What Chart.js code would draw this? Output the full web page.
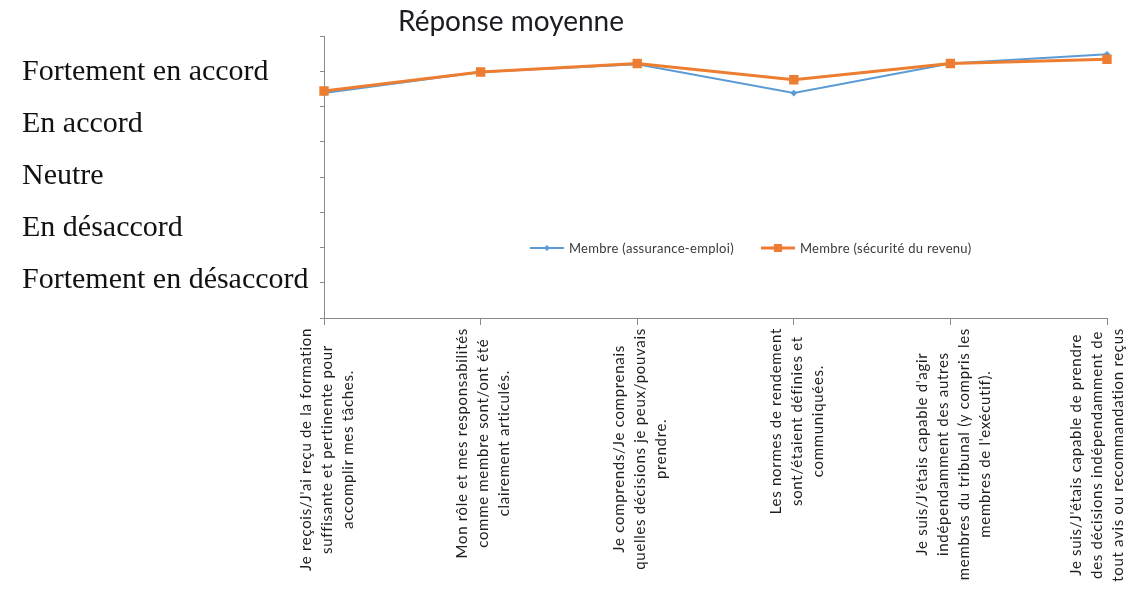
<!DOCTYPE html>
<html lang="fr">
<head>
<meta charset="utf-8">
<title>Réponse moyenne</title>
<script src="https://cdn.jsdelivr.net/npm/chart.js@4.4.1/dist/chart.umd.min.js"></script>
<style>
  html, body { margin: 0; padding: 0; background: #ffffff; }
  #wrap { width: 1133px; height: 593px; position: relative; }
</style>
</head>
<body>
<div id="wrap"><canvas id="chart" width="1133" height="593"></canvas></div>
<script>
// Survey statements (each entry = the lines of one axis label)
const categories = [
  ["Je reçois/J'ai reçu de la formation", "suffisante et pertinente pour", "accomplir mes tâches."],
  ["Mon rôle et mes responsabilités", "comme membre sont/ont été", "clairement articulés."],
  ["Je comprends/Je comprenais", "quelles décisions je peux/pouvais", "prendre."],
  ["Les normes de rendement", "sont/étaient définies et", "communiquées."],
  ["Je suis/J'étais capable d'agir", "indépendamment des autres", "membres du tribunal (y compris les", "membres de l'exécutif)."],
  ["Je suis/J'étais capable de prendre", "des décisions indépendamment de", "tout avis ou recommandation reçus"]
];

// Mean response on the 1–5 agreement scale
const seriesNames = ["Membre (assurance-emploi)", "Membre (sécurité du revenu)"];
const assuranceEmploi = [4.19, 4.49, 4.60, 4.19, 4.61, 4.74];
const securiteRevenu  = [4.22, 4.49, 4.61, 4.38, 4.61, 4.67];

// Agreement levels (value 1 .. 5)
const levelValues = [1, 2, 3, 4, 5];
const levelLabels = ["Fortement en désaccord", "En désaccord", "Neutre", "En accord", "Fortement en accord"];

const chartTitle = "Réponse moyenne";

const BLUE = "#5B9BD5";
const ORANGE = "#ED7D31";
const AXIS = "#8a8a8a";

// Rotated, centre-aligned multi-line category labels under the x axis
const categoryLabelPlugin = {
  id: "categoryLabels",
  afterDraw(chart) {
    const ctx = chart.ctx;
    const xs = chart.scales.x;
    const fontSize = 15;
    const lh = 21;
    ctx.save();
    ctx.font = fontSize + "px Lato, 'Open Sans', sans-serif";
    if ("letterSpacing" in ctx) ctx.letterSpacing = "0.7px";
    ctx.fillStyle = "#1e1e1e";
    ctx.textAlign = "center";
    ctx.textBaseline = "middle";
    categories.forEach((lines, i) => {
      const px = xs.getPixelForTick(i);
      const n = lines.length;
      const maxW = Math.max(...lines.map(l => ctx.measureText(l).width));
      let cx = px + 3;
      const rightEdge = cx + (n - 1) / 2 * lh + fontSize * 0.6;
      if (rightEdge > chart.width - 6) cx -= rightEdge - (chart.width - 6);
      const y0 = xs.top + 10;
      ctx.save();
      ctx.translate(cx, y0);
      ctx.rotate(-Math.PI / 2);
      lines.forEach((line, j) => {
        ctx.fillText(line, -maxW / 2, (j - (n - 1) / 2) * lh);
      });
      ctx.restore();
    });
    ctx.restore();
  }
};

// Title and in-plot legend
const titleLegendPlugin = {
  id: "titleLegend",
  afterDraw(chart) {
    const ctx = chart.ctx;
    const area = chart.chartArea;
    ctx.save();
    ctx.font = "28px Lato, 'Open Sans', sans-serif";
    ctx.fillStyle = "#1c1c24";
    ctx.textAlign = "center";
    ctx.textBaseline = "alphabetic";
    ctx.fillText(chartTitle, area.left + 187, 31);

    // legend row
    ctx.font = "13px Lato, 'Open Sans', sans-serif";
    if ("letterSpacing" in ctx) ctx.letterSpacing = "0.3px";
    ctx.textBaseline = "middle";
    ctx.textAlign = "left";
    const lineLen = 34, gapText = 5, gapItems = 27;
    const items = chart.data.datasets.map(ds => ({ ds, w: ctx.measureText(ds.label).width }));
    const total = items.reduce((s, it) => s + lineLen + gapText + it.w, 0) + gapItems * (items.length - 1);
    let x = area.left + area.width * 0.545 - total / 2;
    const y = area.top + 212;
    items.forEach(({ ds, w }) => {
      ctx.strokeStyle = ds.borderColor;
      ctx.lineWidth = ds.borderWidth;
      ctx.beginPath();
      ctx.moveTo(x, y);
      ctx.lineTo(x + lineLen, y);
      ctx.stroke();
      ctx.fillStyle = ds.pointBackgroundColor;
      Chart.helpers.drawPoint(ctx, {
        pointStyle: ds.pointStyle,
        radius: ds.pointRadius * 0.8,
        borderWidth: 1,
        rotation: 0
      }, x + lineLen / 2, y);
      ctx.fillStyle = "#3a3a3a";
      ctx.fillText(ds.label, x + lineLen + gapText, y + 1);
      x += lineLen + gapText + w + gapItems;
    });
    ctx.restore();
  }
};

new Chart(document.getElementById("chart"), {
  type: "line",
  data: {
    labels: categories,
    datasets: [
      {
        label: seriesNames[0],
        data: assuranceEmploi,
        borderColor: BLUE,
        backgroundColor: BLUE,
        pointBackgroundColor: BLUE,
        pointBorderColor: BLUE,
        borderWidth: 2,
        pointStyle: "rectRot",
        pointRadius: 2,
        tension: 0,
        clip: false,
        order: 1
      },
      {
        label: seriesNames[1],
        data: securiteRevenu,
        borderColor: ORANGE,
        backgroundColor: ORANGE,
        pointBackgroundColor: ORANGE,
        pointBorderColor: ORANGE,
        borderWidth: 3,
        pointStyle: "rect",
        pointRadius: 4.5,
        tension: 0,
        clip: false,
        order: 0
      }
    ]
  },
  options: {
    responsive: false,
    animation: false,
    events: [],
    layout: { padding: { top: 36, right: 26, bottom: 0, left: 22 } },
    plugins: {
      legend: { display: false },
      title: { display: false },
      tooltip: { enabled: false }
    },
    scales: {
      x: {
        type: "category",
        offset: false,
        grid: { drawOnChartArea: false, drawTicks: true, tickLength: 7, color: AXIS },
        border: { display: true, color: AXIS, width: 1 },
        ticks: { display: false },
        afterFit(scale) { scale.height = 275; }
      },
      y: {
        type: "linear",
        position: "left",
        weight: 0,
        min: 1,
        max: 5,
        grid: { drawOnChartArea: false, drawTicks: true, tickLength: 4, color: AXIS },
        border: { display: true, color: AXIS, width: 1 },
        ticks: { display: false, stepSize: 0.5 }
      },
      levels: {
        type: "linear",
        position: "left",
        weight: 1,
        min: 0.27,
        max: 5.69,
        grid: { display: false },
        border: { display: false },
        afterBuildTicks(axis) { axis.ticks = levelValues.map(v => ({ value: v })); },
        afterFit(axis) { axis.width = 298; },
        ticks: {
          autoSkip: false,
          crossAlign: "far",
          padding: 0,
          color: "#111111",
          font: { family: "'Liberation Serif', 'DejaVu Serif', serif", size: 30 },
          callback: (v) => levelLabels[levelValues.indexOf(v)]
        }
      }
    }
  },
  plugins: [categoryLabelPlugin, titleLegendPlugin]
});
</script>
</body>
</html>
